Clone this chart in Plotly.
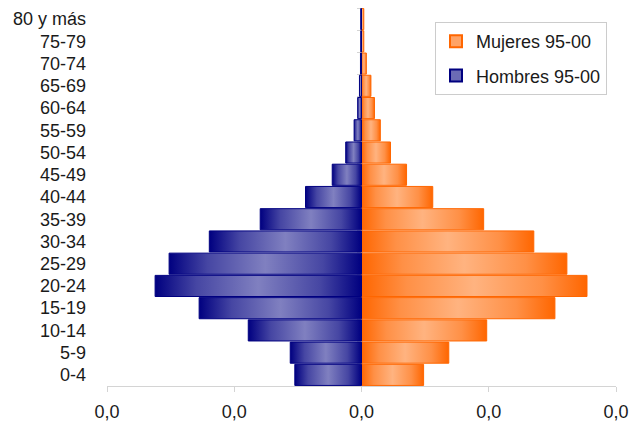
import plotly.graph_objects as go

categories = ["0-4", "5-9", "10-14", "15-19", "20-24", "25-29", "30-34", "35-39",
              "40-44", "45-49", "50-54", "55-59", "60-64", "65-69", "70-74", "75-79", "80 y más"]
hombres = [0.0262, 0.0280, 0.0445, 0.0638, 0.0811, 0.0756, 0.0598, 0.0398,
           0.0220, 0.0115, 0.0062, 0.0029, 0.0015, 0.0008, 0.0004, 0.0003, 0.0003]
mujeres = [0.0244, 0.0343, 0.0492, 0.0760, 0.0886, 0.0807, 0.0677, 0.0480,
           0.0280, 0.0177, 0.0114, 0.0074, 0.0051, 0.0037, 0.0019, 0.0009, 0.0009]
x_tickvals = [-0.1, -0.05, 0, 0.05, 0.1]
x_ticktext = ["0,0", "0,0", "0,0", "0,0", "0,0"]
name_m = "Mujeres 95-00"
name_h = "Hombres 95-00"

FONT = "Liberation Sans, Arial, sans-serif"
H = 0.475

NAVY = "#000080"
NAVY_M = "#4646A3"
NAVY_L = "#8080C0"
ORANGE = "#FF6600"
ORANGE_M = "#FF9046"
ORANGE_L = "#FFB380"

fig = go.Figure()

# legend-only entries
fig.add_trace(go.Bar(x=[None], y=[None], name=name_m, orientation="h",
                     marker=dict(color="#FFA366", line=dict(color=ORANGE, width=2)),
                     legendgroup="m"))
fig.add_trace(go.Bar(x=[None], y=[None], name=name_h, orientation="h",
                     marker=dict(color="#6B6BB5", line=dict(color=NAVY, width=2)),
                     legendgroup="h"))

def bar_poly(x0, x1, yc):
    return [x0, x1, x1, x0, x0], [yc - H, yc - H, yc + H, yc + H, yc - H]

for i, v in enumerate(mujeres):
    xs, ys = bar_poly(0, v, i)
    fig.add_trace(go.Scatter(x=xs, y=ys, mode="lines", fill="toself",
                             line=dict(color=ORANGE, width=1),
                             fillgradient=dict(type="horizontal",
                                               colorscale=[[0, ORANGE], [0.2, ORANGE_M], [0.5, ORANGE_L],
                                                           [0.8, ORANGE_M], [1, ORANGE]]),
                             showlegend=False, hoverinfo="skip", legendgroup="m"))
for i, v in enumerate(hombres):
    xs, ys = bar_poly(-v, 0, i)
    fig.add_trace(go.Scatter(x=xs, y=ys, mode="lines", fill="toself",
                             line=dict(color=NAVY, width=1),
                             fillgradient=dict(type="horizontal",
                                               colorscale=[[0, NAVY], [0.2, NAVY_M], [0.5, NAVY_L],
                                                           [0.8, NAVY_M], [1, NAVY]]),
                             showlegend=False, hoverinfo="skip", legendgroup="h"))

# invisible trace for the central category axis
fig.add_trace(go.Scatter(x=[None], y=[None], yaxis="y2", showlegend=False, hoverinfo="skip"))

n = len(categories)
fig.update_layout(
    width=633, height=423,
    margin=dict(l=107, r=17, t=8, b=37, autoexpand=False),
    paper_bgcolor="white", plot_bgcolor="white",
    font=dict(family=FONT, size=18, color="#1a1a1a"),
    showlegend=True,
    legend=dict(x=(435 - 107) / 509, y=(386 - 22) / 378, xanchor="left", yanchor="top",
                bgcolor="white", bordercolor="#cccccc", borderwidth=1,
                font=dict(family=FONT, size=18, color="#1a1a1a"),
                tracegroupgap=8, traceorder="grouped"),
    xaxis=dict(range=[-0.1, 0.1], tickvals=x_tickvals, ticktext=x_ticktext,
               showgrid=False, zeroline=False, showline=True, linecolor="#d4d4d4", linewidth=1,
               ticks="outside", ticklen=5, tickcolor="#d4d4d4", automargin=False,
               ticklabelstandoff=4, fixedrange=True),
    yaxis=dict(range=[-0.5, n - 0.5], tickvals=list(range(n)), ticktext=categories,
               showgrid=False, zeroline=False, showline=False, ticks="", automargin=False,
               ticklabelstandoff=20, fixedrange=True),
    yaxis2=dict(range=[-0.5, n - 0.5], overlaying="y", anchor="free", position=0.5,
                side="left", tickvals=[k - 0.5 for k in range(n + 1)], automargin=False,
                showticklabels=False, ticks="outside", ticklen=5, tickcolor="#d4d4d4",
                showline=True, linecolor="#d4d4d4", showgrid=False, zeroline=False,
                layer="below traces", fixedrange=True),
)

fig.write_html("out.html", config={"displayModeBar": False},
               post_script="document.body.style.margin='0';document.body.style.padding='0';")
